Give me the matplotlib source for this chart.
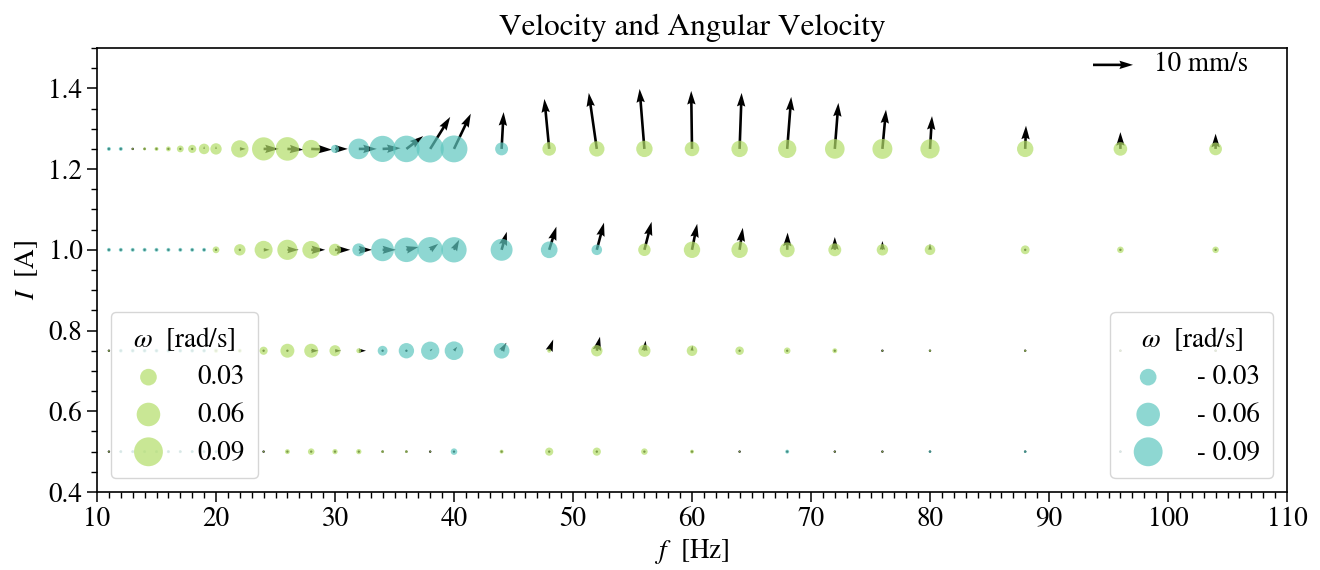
import numpy as np
import matplotlib
matplotlib.use("Agg")
import matplotlib.pyplot as plt
from matplotlib.ticker import MultipleLocator

plt.rcParams['font.family'] = ['STIXGeneral', 'DejaVu Serif']
plt.rcParams['mathtext.fontset'] = 'stix'
plt.rcParams['font.size'] = 19.5

# ---------------- data ----------------
freq = [11, 12, 13, 14, 15, 16, 17, 18, 19, 20,
        22, 24, 26, 28, 30, 32, 34, 36, 38, 40,
        44, 48, 52, 56, 60, 64, 68, 72, 76, 80,
        88, 96, 104]
currents = [1.25, 1.0, 0.75, 0.5]

# angular velocity omega [rad/s] per current row
omega_125 = [-0.0017, -0.0017, 0.0004, 0.001, 0.0017, 0.0026, 0.005, 0.0072, 0.012, 0.014,
             0.0325, 0.058, 0.060, 0.035, -0.0072, -0.046, -0.074, -0.076, -0.080, -0.078,
             -0.018, 0.020, 0.0255, 0.029, 0.023, 0.029, 0.036, 0.0415, 0.043, 0.040,
             0.029, 0.020, 0.0175]
omega_100 = [-0.0017, -0.0017, -0.0017, -0.0017, -0.0017, -0.0017, -0.0017, -0.0017, -0.0017, 0.005,
             0.014, 0.035, 0.044, 0.034, 0.016, -0.018, -0.056, -0.065, -0.070, -0.069,
             -0.052, -0.030, -0.012, 0.0167, 0.029, 0.029, 0.024, 0.018, 0.014, 0.012,
             0.0084, 0.0046, 0.0046]
omega_075 = [0.0004, -0.0015, -0.0015, -0.0015, -0.0015, -0.0015, -0.0015, -0.0015, -0.0015, 0.002,
             0.0017, 0.0072, 0.021, 0.021, 0.0133, 0.0026, -0.0104, -0.0255, -0.036, -0.0375,
             -0.0266, 0.0017, 0.014, 0.016, 0.012, 0.0078, 0.0046, 0.0026, 0.0003, 0.0005,
             0.0005, 0.0005, 0.0005]
omega_050 = [0.0003, -0.001, -0.001, -0.001, -0.001, -0.001, -0.001, -0.001, -0.001, -0.001,
             -0.001, 0.0003, 0.0026, 0.0046, 0.003, 0.003, 0.0008, 0.0008, 0.0003, -0.0046,
             0.0017, 0.0072, 0.0072, 0.0046, 0.0017, 0.0003, -0.0017, 0.0003, 0.0003, -0.0008,
             -0.0008, -0.0005, -0.0005]

# velocity components [mm/s]
vx_125 = [0, 0, 0, 0, 0, 0.05, 0, 0, 0, 0,
          1.5, 3.8, 4.0, 5.2, 3.2, 4.5, 4.5, 4.2, 5.0, 4.2,
          0.5, -1.2, -2.0, -1.2, -0.2, 0.5, 1.0, 0.9, 0.9, 0.5,
          0.2, 0.0, 0.0]
vy_125 = [0, 0, 0, 0, 0, 0.25, 0.5, 0.6, 0.7, 0.7,
          0, 0, -0.2, -0.2, 0, 0, 0.2, 3.2, 8.0, 8.8,
          9.2, 12.5, 14.0, 15.0, 14.5, 14.0, 13.0, 11.5, 9.8, 8.2,
          5.8, 4.2, 3.8]
vx_100 = [0, 0, 0, 0, 0, 0, 0, 0, 0, 0,
          0, 1.5, 2.8, 3.5, 3.8, 3.3, 3.3, 3.0, 2.0, 1.3,
          1.3, 1.8, 1.8, 1.8, 1.3, 0.8, 0.1, 0.0, 0.0, 0.0,
          0.0, 0.0, 0.0]
vy_100 = [0, 0, 0, 0, 0, 0, 0, 0, 0, 0,
          0, 0, 0, 0, 0, 0, 0, 0.7, 1.5, 2.5,
          4.5, 5.8, 6.8, 7.0, 6.5, 5.5, 4.3, 3.2, 2.2, 1.5,
          0.5, 0.0, 0.0]
vx_075 = [0, 0, 0, 0, 0, 0, 0, 0, 0, 0,
          0, 0.2, 0.5, 1.8, 1.5, 1.8, 0.5, 0.2, 0.6, 0.8,
          1.2, 1.0, 0.8, 0.3, 0.1, 0.0, 0.0, 0.0, 0.0, 0.0,
          0.0, 0.0, 0.0]
vy_075 = [0, 0, 0, 0, 0, 0, 0, 0, 0, 0,
          0, 0, 0, 0, 0, 0, 0, 0.1, 0.5, 1.0,
          2.0, 2.8, 3.5, 2.5, 1.3, 0.5, 0.25, 0.0, 0.0, 0.0,
          0.0, 0.0, 0.0]
vx_050 = [0] * 20 + [0.25] + [0] * 12
vy_050 = [0] * 20 + [0.5] + [0] * 12

omegas = [omega_125, omega_100, omega_075, omega_050]
vxs = [vx_125, vx_100, vx_075, vx_050]
vys = [vy_125, vy_100, vy_075, vy_050]

legend_values = [0.03, 0.06, 0.09]
pos_labels = ['0.03', '0.06', '0.09']
neg_labels = ['- 0.03', '- 0.06', '- 0.09']

# ---------------- style ----------------
green = '#b3de69'
teal = '#5fc7bf'
alpha = 0.7
size_k = 4800
fs = 19.5

fig = plt.figure(figsize=(13.2, 5.7), dpi=100)
ax = fig.add_axes([97 / 1320, 1 - 492 / 570, 1190 / 1320, 444 / 570])

F = np.array(freq, dtype=float)
for I, om, vx, vy in zip(currents, omegas, vxs, vys):
    om = np.array(om)
    Q = ax.quiver(F, np.full_like(F, I), np.array(vx, float), np.array(vy, float),
                  angles='uv', scale_units='inches', scale=25, pivot='tail',
                  width=0.0022, headwidth=3.2, headlength=5.2, headaxislength=4.7,
                  color='black', zorder=2)
    cols = [green if w > 0 else teal for w in om]
    ax.scatter(F, np.full_like(F, I), s=size_k * np.abs(om), c=cols, alpha=alpha,
               edgecolors='none', zorder=3)

ax.quiverkey(Q, 0.8706, 0.962, 10, '10 mm/s', labelpos='E', coordinates='axes',
             labelsep=0.21, fontproperties={'size': fs})

ax.set_xlim(10, 110)
ax.set_ylim(0.4, 1.5)
ax.xaxis.set_major_locator(MultipleLocator(10))
ax.xaxis.set_minor_locator(MultipleLocator(1))
ax.yaxis.set_major_locator(MultipleLocator(0.2))
ax.yaxis.set_minor_locator(MultipleLocator(0.05))
ax.yaxis.set_major_formatter(plt.FormatStrFormatter('%.1f'))
ax.tick_params(which='major', direction='out', length=7, width=1.1, labelsize=fs)
ax.tick_params(which='minor', direction='out', length=4, width=1.0)
for sp in ax.spines.values():
    sp.set_linewidth(1.2)

ax.set_title('Velocity and Angular Velocity', fontsize=22.5, pad=9)
ax.set_xlabel('$f$  [Hz]', fontsize=fs, labelpad=4)
ax.set_ylabel('$I$  [A]', fontsize=fs, labelpad=6)

pos_handles = [ax.scatter([], [], s=size_k * v, c=green, alpha=alpha, edgecolors='none')
               for v in legend_values]
neg_handles = [ax.scatter([], [], s=size_k * v, c=teal, alpha=alpha, edgecolors='none')
               for v in legend_values]

leg_kw = dict(fontsize=fs, title_fontsize=fs, handlelength=1.8, handletextpad=0.9,
              labelspacing=0.45, borderpad=0.5, framealpha=0.8, edgecolor='0.8')
leg1 = ax.legend(pos_handles, pos_labels, title=r'$\omega$  [rad/s]', loc='lower left', **leg_kw)
ax.add_artist(leg1)
leg2 = ax.legend(neg_handles, neg_labels, title=r'$\omega$  [rad/s]', loc='lower right', **leg_kw)

fig.savefig('out.png', dpi=100)
